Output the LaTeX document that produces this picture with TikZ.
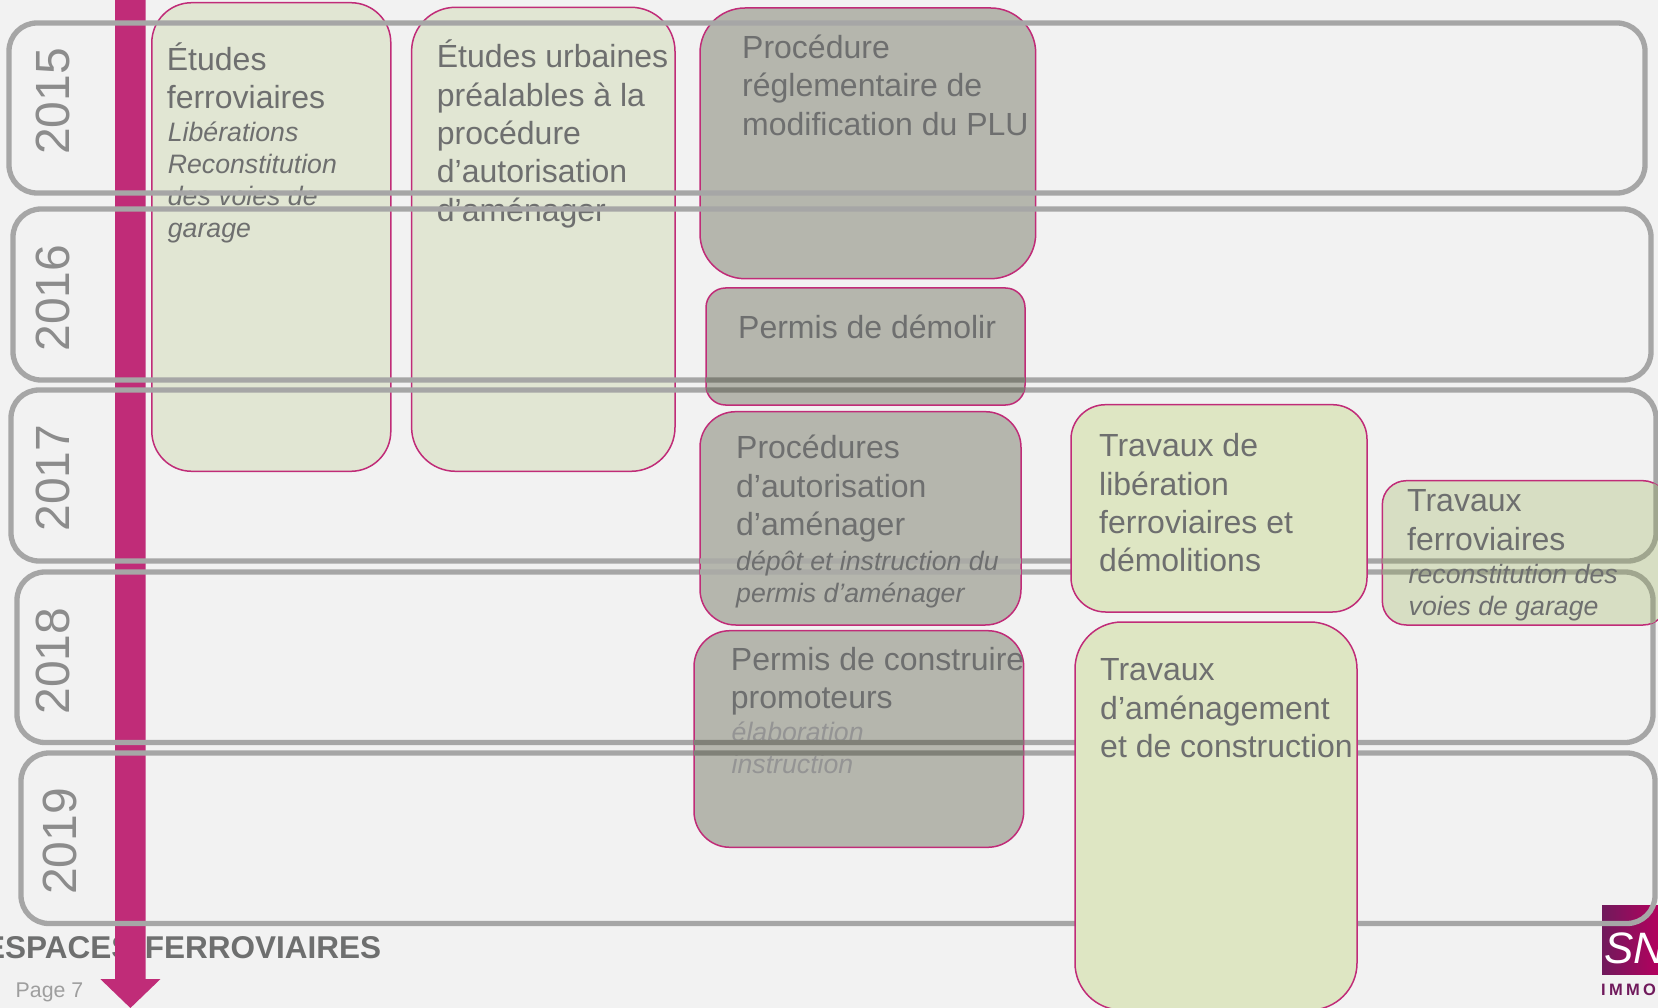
\documentclass[tikz,border=0pt]{standalone}
\usepackage{fontspec}
\setmainfont{Liberation Sans}
\newcommand{\mainsize}{\fontsize{32}{38.4}\selectfont}
\newcommand{\notesize}{\fontsize{26.67}{32}\selectfont\itshape}
% the five year frames, in one place because some boxes redraw them
\newcommand{\yearbands}[1]{%
	\foreach \xa/\ya/\xb/\yb in {9/23/1645/193,13/209/1651/380,11/390/1656/561,17/572/1653/742.5,21/753/1655/923.5}
		{\draw [#1,line width=5.3pt,rounded corners=28pt] (\xa,\ya) rectangle (\xb,\yb);}%
}
\definecolor{pagebg}{HTML}{F2F2F2}
\definecolor{bandgrey}{HTML}{A6A6A6}
\definecolor{bandfaint}{HTML}{AAAAA6}
\definecolor{bandstone}{HTML}{808178}
\definecolor{bandleaf}{HTML}{A0A68F}
\definecolor{barpink}{HTML}{C02C78}
\definecolor{textgrey}{HTML}{6E6F6F}
\definecolor{paleleaf}{HTML}{E1E6D3}
\definecolor{leaf}{HTML}{DEE6C3}
\definecolor{dimleaf}{HTML}{D7DEC3}
\definecolor{stone}{HTML}{B5B6AD}
\definecolor{logoleft}{HTML}{701A5C}
\definecolor{logoright}{HTML}{B5005E}
\tikzset{
	stagebox/.style n args={4}{draw=barpink,fill=#4,line width=1.5pt,rounded corners=#3,
		minimum width=#1,minimum height=#2,inner sep=0pt,outer sep=0pt,anchor=north west},
	stagetext/.style={font=\mainsize,text=textgrey,align=left,inner sep=0pt,anchor=north west,
		execute at begin node={\rule{0pt}{30pt}}},
	stagenote/.style={stagetext,font=\notesize},
	yearlabel/.style={font=\fontsize{48}{48}\selectfont,text=black!45,rotate=90,anchor=base,inner sep=0pt},
}
\begin{document}
\begin{tikzpicture}[x=1pt,y=-1pt]
	\useasboundingbox (0,0) rectangle (1658,1008);
	\fill [pagebg] (0,0) rectangle (1658,1008);

	% footer, under the bar
	\node [anchor=base west,inner sep=0pt,text=textgrey,font=\fontsize{31.5}{32}\selectfont\bfseries] (footer) at (-16,958) {ESPACES\hspace{12.5pt}FERROVIAIRES};
	\node [anchor=base west,inner sep=0pt,text=black!38,font=\fontsize{21.3}{24}\selectfont] (pagenum) at (15.5,997) {Page 7};
	\fill [barpink] (115,-5) -- (145.7,-5) -- (145.7,979) -- (160.5,979) -- (130.4,1008) -- (100.3,979) -- (115,979) -- cycle;

	% logo
	\shade [left color=logoleft,right color=logoright] (1602,905) rectangle (1660,974);
	\node [anchor=base west,inner sep=0pt,text=white,font=\fontsize{44}{44}\selectfont\itshape] (logo) at (1604,963) {SN};
	\node [anchor=base west,inner sep=0pt,text=logoleft,font=\fontsize{16.5}{16}\selectfont\bfseries\addfontfeature{LetterSpace=20}] (immo) at (1601,995) {IMMO};

	% boxes the frames run over
	\node [stagebox={239pt}{468.6pt}{40pt}{paleleaf}] (etudesf) at (151.8,2.7) {};
	\node [stagetext] (etudesft) at (166.7,42.3) {Études\\ferroviaires};
	\node [stagenote] (etudesfn) at (167.7,121.2) {Libérations\\Reconstitution\\des voies de\\garage};
	\node [stagebox={263.4pt}{464pt}{44pt}{paleleaf}] (etudesu) at (411.6,7.3) {};
	\node [stagetext] (etudesut) at (436.7,39.7) {Études urbaines\\préalables à la\\procédure\\d’autorisation\\d’aménager};
	\node [stagebox={335.7pt}{270.7pt}{45pt}{stone}] (plu) at (700,8) {};
	\node [stagetext] (plut) at (742,34.7) {Procédure\\réglementaire de\\modification du PLU};

	\yearbands{bandgrey}
	\node [yearlabel] (y2015) at (69.5,101.3) {2015};
	\node [yearlabel] (y2016) at (69.5,298) {2016};
	\node [yearlabel] (y2017) at (69.5,478) {2017};
	\node [yearlabel] (y2018) at (69.5,661) {2018};
	\node [yearlabel] (y2019) at (76,841.5) {2019};

	% permis de demolir
	\node [stagebox={319pt}{117pt}{19.5pt}{stone}] (demolir) at (706,288) {};
	\begin{scope}
		\clip [rounded corners=19.5pt] (demolir.north west) rectangle (demolir.south east);
		\yearbands{bandstone}
	\end{scope}
	\node [stagetext] (demolirt) at (738,308) {Permis de démolir};

	% procedures d'autorisation
	\node [stagebox={321pt}{213.3pt}{35.6pt}{stone}] (amenager) at (700,411.7) {};
	\begin{scope}
		\clip [rounded corners=35.6pt] (amenager.north west) rectangle (amenager.south east);
		\yearbands{bandfaint}
	\end{scope}
	\node [stagetext] (amenagert) at (736,435.2) {Procédures\\d’autorisation\\d’aménager};
	\node [stagenote] (amenagern) at (736,550.2) {dépôt et instruction du\\permis d’aménager};

	% permis de construire
	\node [stagebox={329.7pt}{216.6pt}{36pt}{stone}] (construire) at (694,630.7) {};
	\node [stagenote,text=black!42] (construiren) at (731.5,721.2) {élaboration\\instruction};
	\begin{scope}
		\clip [rounded corners=36pt] (construire.north west) rectangle (construire.south east);
		\yearbands{bandstone}
	\end{scope}
	\node [stagetext] (construiret) at (730.7,647) {Permis de construire\\promoteurs};

	% travaux
	\node [stagebox={296pt}{207.3pt}{34.5pt}{leaf}] (liberation) at (1071,404.7) {};
	\node [stagetext] (liberationt) at (1099,433.4) {Travaux de\\libération\\ferroviaires et\\démolitions};
	\node [stagebox={282pt}{388pt}{47pt}{leaf}] (travaux) at (1075,622) {};
	\node [stagetext] (travauxt) at (1100,658.5) {Travaux\\d’aménagement\\et de construction};
	\node [stagebox={284.7pt}{144.3pt}{24pt}{dimleaf}] (reconstit) at (1382.3,480.7) {};
	\begin{scope}
		\clip [rounded corners=24pt] (reconstit.north west) rectangle (reconstit.south east);
		\yearbands{bandleaf}
	\end{scope}
	\node [stagetext] (reconstitt) at (1407,489.7) {Travaux\\ferroviaires};
	\node [stagenote] (reconstitn) at (1408.5,564.3) {reconstitution des\\voies de garage};
\end{tikzpicture}
\end{document}
